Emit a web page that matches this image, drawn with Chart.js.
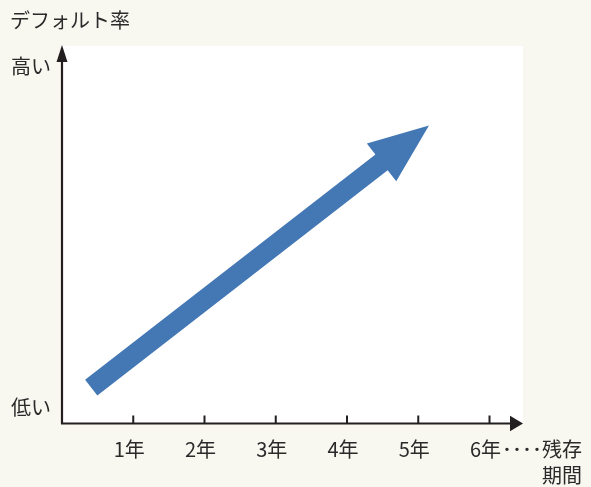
<!DOCTYPE html>
<html><head><meta charset="utf-8">
<script src="https://cdn.jsdelivr.net/npm/chart.js@4"></script>
<style>
html,body{margin:0;padding:0;background:#f8f7f0;}
#wrap{position:relative;width:591px;height:487px;overflow:hidden;}
canvas{position:absolute;left:0;top:0;}
.t{position:absolute;font-family:"Noto Sans CJK JP","Noto Sans",sans-serif;font-size:20px;line-height:20px;color:#2a2a2a;white-space:nowrap;}
</style></head>
<body>
<div id="wrap">
<canvas id="c" width="591" height="487"></canvas>
<div class="t" style="left:10px;top:10px;">デフォルト率</div>
<div class="t" style="left:11px;top:56px;">高い</div>
<div class="t" style="left:11px;top:397px;">低い</div>
<div class="t" style="right:9px;top:439px;">････残存</div>
<div class="t" style="right:9px;top:465px;">期間</div>
</div>
<script>
// --- data ---
const years = [1, 2, 3, 4, 5, 6];
const yearLabels = ['1年', '2年', '3年', '4年', '5年', '6年'];
const arrowX = [0.41, 5.15];   // remaining term (years): tail, tip
const arrowY = [9.5, 78.7];    // default rate (relative): tail, tip
const xMax = 6.47;
const yMax = 100;

const BLUE = '#4478b5';
const INK = '#231f20';

const decor = {
  id: 'decor',
  beforeDatasetsDraw(chart) {
    const {ctx, chartArea: a} = chart;
    ctx.save();
    ctx.fillStyle = '#ffffff';
    ctx.fillRect(a.left, a.top + 1, a.right - a.left, a.bottom - a.top - 1);
    ctx.restore();
  },
  afterDatasetsDraw(chart) {
    const {ctx, scales} = chart;
    const xs = scales.x, ys = scales.y;
    // arrow
    const p0 = {x: xs.getPixelForValue(arrowX[0]), y: ys.getPixelForValue(arrowY[0])};
    const p1 = {x: xs.getPixelForValue(arrowX[1]), y: ys.getPixelForValue(arrowY[1])};
    const dx = p1.x - p0.x, dy = p1.y - p0.y, L = Math.hypot(dx, dy);
    const u = {x: dx / L, y: dy / L}, n = {x: -u.y, y: u.x};
    const sw = 10, hl = 60, hw = 24;
    const b = {x: p1.x - u.x * hl, y: p1.y - u.y * hl};
    const P = (p, k) => [p.x + n.x * k, p.y + n.y * k];
    const pts = [P(p0, sw), P(b, sw), P(b, hw), [p1.x, p1.y], P(b, -hw), P(b, -sw), P(p0, -sw)];
    ctx.save();
    ctx.fillStyle = BLUE;
    ctx.beginPath();
    pts.forEach((q, i) => i ? ctx.lineTo(q[0], q[1]) : ctx.moveTo(q[0], q[1]));
    ctx.closePath();
    ctx.fill();
    // axes
    const x0 = xs.getPixelForValue(0), y0 = ys.getPixelForValue(0);
    const xEnd = xs.getPixelForValue(xMax), yEnd = ys.getPixelForValue(yMax);
    ctx.strokeStyle = INK; ctx.fillStyle = INK; ctx.lineWidth = 2.2;
    ctx.beginPath();
    ctx.moveTo(x0, y0); ctx.lineTo(x0, yEnd + 10);
    ctx.moveTo(x0 - 1, y0); ctx.lineTo(xEnd - 8, y0);
    ctx.stroke();
    // y arrowhead
    ctx.beginPath();
    ctx.moveTo(x0, yEnd); ctx.lineTo(x0 + 5.5, yEnd + 17); ctx.lineTo(x0 - 5.5, yEnd + 17); ctx.closePath(); ctx.fill();
    // x arrowhead
    ctx.beginPath();
    ctx.moveTo(xEnd, y0); ctx.lineTo(xEnd - 13, y0 - 7.7); ctx.lineTo(xEnd - 13, y0 + 7.7); ctx.closePath(); ctx.fill();
    // ticks
    ctx.lineWidth = 2;
    ctx.beginPath();
    years.forEach(v => { const px = xs.getPixelForValue(v); ctx.moveTo(px, y0); ctx.lineTo(px, y0 - 8); });
    ctx.stroke();
    ctx.restore();
  }
};

new Chart(document.getElementById('c'), {
  type: 'scatter',
  data: {datasets: [{data: arrowX.map((x, i) => ({x, y: arrowY[i]})), pointRadius: 0, showLine: false}]},
  options: {
    responsive: false, animation: false,
    layout: {padding: {left: 62, right: 68, top: 45, bottom: 0}},
    plugins: {legend: {display: false}, tooltip: {enabled: false}},
    scales: {
      x: {
        type: 'linear', min: 0, max: xMax,
        afterBuildTicks(s) { s.ticks = years.map(v => ({value: v})); },
        afterFit(s) { s.height = 63.5; },
        grid: {display: false, drawTicks: false},
        border: {display: false},
        ticks: {
          padding: 14, labelOffset: -4, color: '#2a2a2a', autoSkip: false, maxRotation: 0,
          font: {family: '"Noto Sans CJK JP", "Noto Sans", sans-serif', size: 20},
          callback: (v) => yearLabels[years.indexOf(v)] ?? ''
        }
      },
      y: {type: 'linear', min: 0, max: yMax, display: false}
    }
  },
  plugins: [decor]
});
</script>
</body></html>
